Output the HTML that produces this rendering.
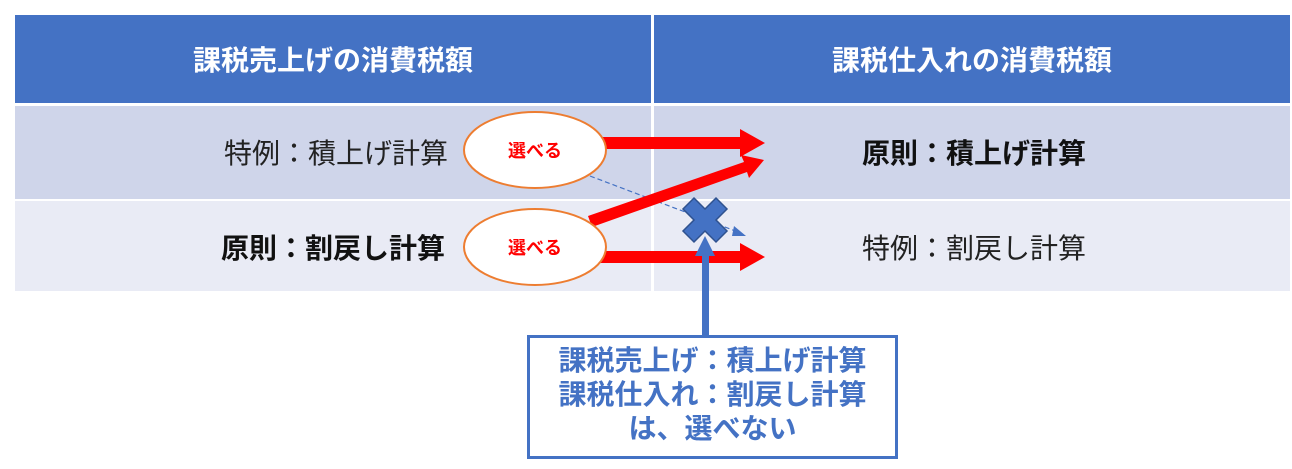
<!DOCTYPE html>
<html><head><meta charset="utf-8"><style>
body{margin:0;width:1292px;height:469px;background:#fff;overflow:hidden;font-family:"Liberation Sans","Noto Sans CJK JP",sans-serif;position:relative}
div{position:absolute;box-sizing:border-box}
.h{background:#4472c4;color:#fff;font-weight:bold;font-size:28px;top:15px;height:88px;display:flex;align-items:center;justify-content:center}
.t{font-size:28px;display:flex;align-items:center;color:#222;white-space:nowrap}
</style></head><body>
<div class="h" style="left:15px;width:636px">課税売上げの消費税額</div>
<div class="h" style="left:654px;width:636px">課税仕入れの消費税額</div>
<div style="left:15px;top:106px;width:1275px;height:93px;background:#cfd5ea"></div>
<div style="left:15px;top:201px;width:1275px;height:90px;background:#e9ebf5"></div>
<div style="left:651px;top:106px;width:3px;height:185px;background:#fff"></div>
<div class="t" style="left:224px;top:130px;height:44px">特例：積上げ計算</div>
<div class="t" style="left:221px;top:225px;height:44px;font-weight:bold;color:#111">原則：割戻し計算</div>
<div class="t" style="left:862px;top:130px;height:44px;font-weight:bold;color:#111">原則：積上げ計算</div>
<div class="t" style="left:862px;top:225px;height:44px">特例：割戻し計算</div>
<svg width="1292" height="469" style="position:absolute;left:0;top:0">
<line x1="590" y1="176" x2="738" y2="232" stroke="#4472c4" stroke-width="1.2" stroke-dasharray="5,3"/>
<polygon points="746,236 734,226 732,236" fill="#4472c4"/>
<g fill="#f00">
<polygon points="600,137 740,137 740,129 765,143 740,157 740,149 600,149"/>
<polygon points="600,251 740,251 740,243 765,257 740,271 740,263 600,263"/>
<polygon points="588,216 744,162 741,155 764,160 749,178 747,172 592,227"/>
</g>
<ellipse cx="535" cy="150" rx="71" ry="38" fill="#fff" stroke="#ed7d31" stroke-width="2"/>
<ellipse cx="535" cy="247" rx="71" ry="38" fill="#fff" stroke="#ed7d31" stroke-width="2"/>
<text x="535" y="157" text-anchor="middle" font-size="18" font-weight="bold" fill="#f00" font-family="Liberation Sans,Noto Sans CJK JP,sans-serif">選べる</text>
<text x="535" y="254" text-anchor="middle" font-size="18" font-weight="bold" fill="#f00" font-family="Liberation Sans,Noto Sans CJK JP,sans-serif">選べる</text>
<polygon points="694,198 705,209 716,198 727,209 716,220 727,231 716,242 705,231 694,242 683,231 694,220 683,209" fill="#4472c4" stroke="#2f528f" stroke-width="1.5"/>
<rect x="702" y="255" width="7" height="82" fill="#4472c4"/>
<polygon points="705,236 695,256 715,256" fill="#4472c4"/>
</svg>
<div style="left:527px;top:335px;width:371px;height:124px;border:3px solid #4472c4;color:#4472c4;font-weight:bold;font-size:28px;line-height:34px;text-align:center;padding-top:6px;white-space:nowrap">課税売上げ：積上げ計算<br>課税仕入れ：割戻し計算<br>は、選べない</div>
</body></html>
